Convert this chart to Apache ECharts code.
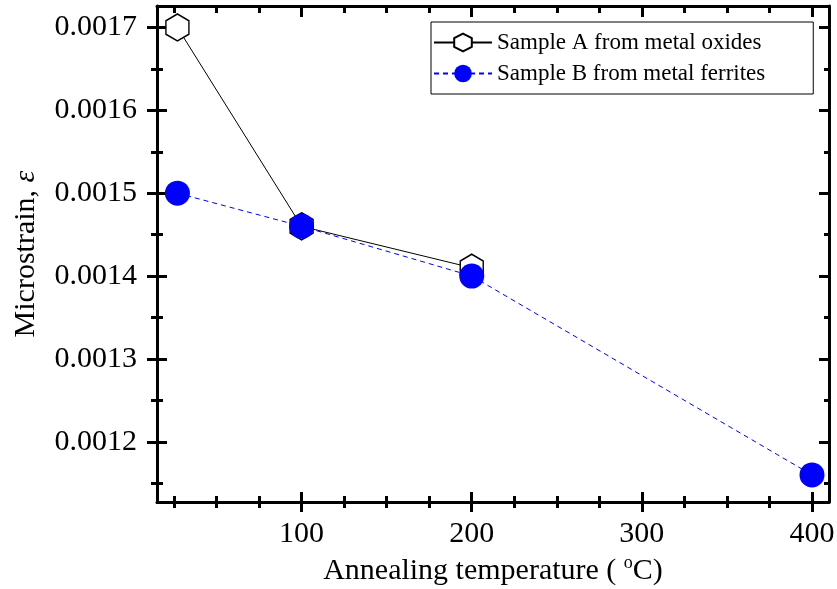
<!DOCTYPE html>
<html><head><meta charset="utf-8">
<script src="https://cdn.jsdelivr.net/npm/echarts@6/dist/echarts.min.js"></script>
<style>html,body{margin:0;padding:0;background:#fff}#c{width:837px;height:589px}</style>
</head><body><div id="c"></div>
<script>
var temps = [27, 100, 200, 400];
var sampleA = [0.00170, 0.00146, 0.00141, null];
var sampleB = [0.00150, 0.00146, 0.00140, 0.00116];
var xMajor = [100, 200, 300, 400];
var xMinor = [25, 50, 75, 125, 150, 175, 225, 250, 275, 325, 350, 375];
var yMajor = [0.0012, 0.0013, 0.0014, 0.0015, 0.0016, 0.0017];
var yMinor = [0.00115, 0.00125, 0.00135, 0.00145, 0.00155, 0.00165];
var nameA = 'Sample A from metal oxides';
var nameB = 'Sample B from metal ferrites';

var FONT = 'Liberation Serif';
var FS = 30;
var X_MIN = 15, X_MAX = 410, Y_MIN = 0.0011273, Y_MAX = 0.0017259;
var hex = 'path://M0,-1 L0.866,-0.5 L0.866,0.5 L0,1 L-0.866,0.5 L-0.866,-0.5 Z';

function xAx(pos, offset, showLine, ticks, len, labels, extra) {
  var a = {
    type: 'value', position: pos, offset: offset, min: X_MIN, max: X_MAX,
    splitLine: {show: false},
    axisLine: {show: showLine, onZero: false, lineStyle: {color: '#000', width: 3}},
    axisTick: ticks ? {show: true, inside: true, length: len, customValues: ticks, lineStyle: {color: '#000', width: 3}} : {show: false},
    axisLabel: labels ? {show: true, customValues: labels, fontFamily: FONT, fontSize: FS, color: '#000', margin: 17} : {show: false}
  };
  return Object.assign(a, extra || {});
}
function yAx(pos, offset, showLine, ticks, len, labels, extra) {
  var a = {
    type: 'value', position: pos, offset: offset, min: Y_MIN, max: Y_MAX,
    splitLine: {show: false},
    axisLine: {show: showLine, onZero: false, lineStyle: {color: '#000', width: 3}},
    axisTick: ticks ? {show: true, inside: true, length: len, customValues: ticks, lineStyle: {color: '#000', width: 3}} : {show: false},
    axisLabel: labels ? {show: true, customValues: labels, fontFamily: FONT, fontSize: FS, color: '#000', margin: 20,
      formatter: function (v) { return v.toFixed(4); }} : {show: false}
  };
  return Object.assign(a, extra || {});
}

var chart = echarts.init(document.getElementById('c'), null, {renderer: 'canvas'});
chart.setOption({
  animation: false,
  backgroundColor: '#fff',
  grid: {left: 157, right: 8, top: 6, bottom: 87, containLabel: false, outerBoundsMode: 'none'},
  legend: {
    orient: 'vertical', left: 431, top: 22,
    padding: [9, 48, 9, 2],
    borderColor: '#000', borderWidth: 1, backgroundColor: '#fff',
    itemWidth: 58, itemHeight: 22, itemGap: 8,
    textStyle: {fontFamily: FONT, fontSize: 23, color: '#000'},
    data: [nameA, nameB]
  },
  xAxis: [
    xAx('bottom', 0, true, null, 0, xMajor, {
      name: '{t|Annealing temperature ( }{s|o}{t|C)}', nameLocation: 'middle', nameGap: 52,
      nameTextStyle: {rich: {t: {fontFamily: FONT, fontSize: FS, color: '#000'},
        s: {fontFamily: FONT, fontSize: 18, color: '#000', verticalAlign: 'top', padding: [0, 0, 16, 0]}}}
    }),
    xAx('bottom', 10, false, xMajor, 20, null),
    xAx('bottom', 6, false, xMinor, 12, null),
    xAx('top', 0, true, xMajor, 11, null),
    xAx('top', 0, false, xMinor, 7, null)
  ],
  yAxis: [
    yAx('left', 0, true, null, 0, yMajor, {
      name: '{t|Microstrain, }{e|ε}', nameLocation: 'middle', nameGap: 116, nameRotate: 90,
      nameTextStyle: {rich: {t: {fontFamily: FONT, fontSize: FS, color: '#000'},
        e: {fontFamily: FONT, fontSize: FS, fontStyle: 'italic', color: '#000'}}}
    }),
    yAx('left', 10, false, yMajor, 20, null),
    yAx('left', 6, false, yMinor, 12, null),
    yAx('right', 0, true, yMajor, 10, null),
    yAx('right', 0, false, yMinor, 5, null)
  ],
  series: [
    {
      name: nameA, type: 'line', xAxisIndex: 0, yAxisIndex: 0,
      data: temps.map(function (t, i) { return [t, sampleA[i]]; }).filter(function (p) { return p[1] !== null; }),
      symbol: hex, symbolSize: [23, 27],
      itemStyle: {color: '#fff', borderColor: '#000', borderWidth: 1.5},
      lineStyle: {color: '#000', width: 1, type: 'solid'},
      z: 3
    },
    {
      name: nameB, type: 'line', xAxisIndex: 0, yAxisIndex: 0,
      data: temps.map(function (t, i) { return [t, sampleB[i]]; }),
      symbol: 'circle', symbolSize: 25,
      itemStyle: {color: '#0000ff'},
      lineStyle: {color: '#0000ff', width: 1, type: [5, 4]},
      z: 4
    }
  ]
});
</script></body></html>
